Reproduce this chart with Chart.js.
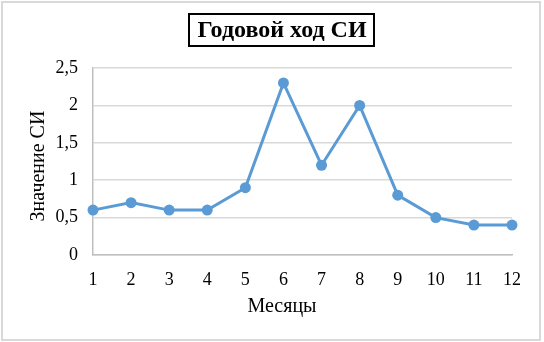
<!DOCTYPE html>
<html>
<head>
<meta charset="utf-8">
<script src="https://cdn.jsdelivr.net/npm/chart.js@4/dist/chart.umd.min.js"></script>
<style>
  html, body { margin: 0; padding: 0; background: #fff; }
  #wrap { width: 544px; height: 342px; }
</style>
</head>
<body>
<div id="wrap"><canvas id="c" width="544" height="342"></canvas></div>
<script>
const months = ['1','2','3','4','5','6','7','8','9','10','11','12'];
const siValues = [0.6, 0.7, 0.6, 0.6, 0.9, 2.3, 1.2, 2.0, 0.8, 0.5, 0.4, 0.4];
const yMin = 0;
const yMax = 2.5;
const yStep = 0.5;
const chartTitle = 'Годовой ход СИ';
const xTitle = 'Месяцы';
const yTitle = 'Значение СИ';

const SERIF = '"Liberation Serif", "Times New Roman", serif';
const BLUE = '#5b9bd5';

const decorPlugin = {
  id: 'decor',
  beforeDraw(chart) {
    const ctx = chart.ctx;
    ctx.save();
    ctx.fillStyle = '#ffffff';
    ctx.fillRect(0, 0, chart.width, chart.height);
    ctx.strokeStyle = '#d9d9d9';
    ctx.lineWidth = 2;
    ctx.strokeRect(2, 2, 538, 338);
    ctx.restore();
  },
  afterDraw(chart) {
    const ctx = chart.ctx;
    const cx = 282;
    ctx.save();
    // main title with box
    ctx.font = 'bold 24px ' + SERIF;
    ctx.fillStyle = '#000';
    ctx.textAlign = 'center';
    ctx.textBaseline = 'middle';
    ctx.fillText(chartTitle, cx, 31);
    const w = ctx.measureText(chartTitle).width;
    ctx.strokeStyle = '#000';
    ctx.lineWidth = 2;
    ctx.strokeRect(Math.round(cx - w / 2 - 8), 14, Math.round(w + 16), 32);
    // x axis title
    ctx.font = '20px ' + SERIF;
    ctx.fillText(xTitle, cx, 307);
    // y axis title
    ctx.translate(39, 166);
    ctx.rotate(-Math.PI / 2);
    ctx.fillText(yTitle, 0, 0);
    ctx.restore();
  }
};

new Chart(document.getElementById('c'), {
  type: 'line',
  data: {
    labels: months,
    datasets: [{
      data: siValues,
      borderColor: BLUE,
      backgroundColor: BLUE,
      borderWidth: 3,
      pointRadius: 5.5,
      pointHoverRadius: 5.5,
      pointBackgroundColor: BLUE,
      pointBorderWidth: 0,
      tension: 0,
      clip: false
    }]
  },
  options: {
    responsive: false,
    animation: false,
    devicePixelRatio: 1,
    layout: { padding: { top: 68, left: 4, right: 32, bottom: 4 } },
    plugins: {
      legend: { display: false },
      title: { display: false },
      tooltip: { enabled: false }
    },
    scales: {
      x: {
        offset: false,
        afterFit(scale) { scale.height = 83; },
        grid: { display: false, drawTicks: false },
        border: { display: true, color: '#bfbfbf', width: 1.5 },
        ticks: {
          color: '#000',
          font: { family: SERIF, size: 18 },
          padding: 14,
          maxRotation: 0,
          autoSkip: false
        }
      },
      y: {
        min: yMin,
        max: yMax,
        afterFit(scale) { scale.width = 89; },
        grid: { color: '#d9d9d9', lineWidth: 1.5, drawTicks: false },
        border: { display: true, color: '#bfbfbf', width: 1.5 },
        ticks: {
          stepSize: yStep,
          color: '#000',
          font: { family: SERIF, size: 18 },
          padding: 15,
          callback: (v) => String(v).replace('.', ',')
        }
      }
    }
  },
  plugins: [decorPlugin]
});
</script>
</body>
</html>
